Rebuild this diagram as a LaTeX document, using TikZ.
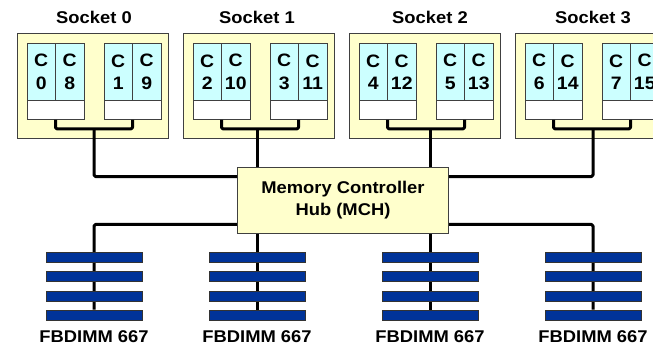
\documentclass[tikz,border=0pt]{standalone}
\usepackage{fontspec}
\setmainfont{Liberation Sans}[FakeStretch=1.08]
\usetikzlibrary{calc,backgrounds}

\definecolor{sockfill}{HTML}{FFFFCC}
\definecolor{corefill}{HTML}{CCFFFF}
\definecolor{barblue}{HTML}{003399}

\tikzset{
  lbl/.style={font=\bfseries\fontsize{17}{22.5}\selectfont, inner sep=0pt},
  sock/.style={draw=black!75, fill=sockfill, line width=0.9pt,
    minimum width=151pt, minimum height=105pt, inner sep=0pt},
  core/.style={draw=black!75, fill=corefill, line width=0.8pt,
    minimum width=28.5pt, minimum height=57pt, inner sep=0pt, align=center,
    font=\bfseries\fontsize{18}{22.5}\selectfont},
  cache/.style={draw=black!75, fill=white, line width=0.8pt,
    minimum width=57pt, minimum height=19pt, inner sep=0pt},
  hub/.style={draw=black!75, fill=sockfill, line width=0.9pt,
    minimum width=211pt, minimum height=66pt, inner sep=0pt, align=center,
    font=\bfseries\fontsize{17}{22}\selectfont},
  dimmbar/.style={draw=black!80, fill=barblue, line width=0.7pt,
    minimum width=96pt, minimum height=10pt, inner sep=0pt},
  bus/.style={line width=3pt, line join=round, rounded corners=1.5pt},
}

\begin{document}
\begin{tikzpicture}[x=1pt, y=-1pt]
  \clip (0,0) rectangle (653,348);

  % MCH
  \node[hub] (mch) at (343,200) {Memory Controller\\Hub (MCH)};

  % four sockets, two dual-core groups each
  \foreach \i/\bx in {0/94,1/257,2/430,3/593} {
    \pgfmathsetmacro{\L}{17+166*\i}
    \pgfmathtruncatemacro{\na}{2*\i}
    \pgfmathtruncatemacro{\nb}{2*\i+8}
    \pgfmathtruncatemacro{\nc}{2*\i+1}
    \pgfmathtruncatemacro{\nd}{2*\i+9}
    \node[sock] (s\i) at (\L+75.5,85.5) {};
    \node[lbl] (t\i) at (\bx,17.5) {Socket \i};
    \node[core] (c\i a) at (\L+24.25,72) {C\\\na};
    \node[core] (c\i b) at (\L+52.75,72) {C\\\nb};
    \node[core] (c\i c) at (\L+101.25,72) {C\\\nc};
    \node[core] (c\i d) at (\L+129.75,72) {C\\\nd};
    \node[cache] (k\i a) at (\L+38.5,110) {};
    \node[cache] (k\i b) at (\L+115.5,110) {};
    % bracket joining the two caches
    \draw[bus] (k\i a.south) -- ++(0,9) -| (k\i b.south);
    \coordinate (m\i) at (\bx,128.5);

    % memory channel
    \node[dimmbar] (d\i-1) at (\bx,257) {};
    \node[dimmbar] (d\i-2) at (\bx,276.5) {};
    \node[dimmbar] (d\i-3) at (\bx,296) {};
    \node[dimmbar] (d\i-4) at (\bx,315) {};
    \node[lbl] (f\i) at (\bx,337) {FBDIMM 667};
  }

  % socket buses into the MCH
  \draw[bus] (m0) |- ($(mch.north west)+(0,10)$);
  \draw[bus] (m1) -- (m1 |- mch.north);
  \draw[bus] (m2) -- (m2 |- mch.north);
  \draw[bus] (m3) |- ($(mch.north east)+(0,10)$);

  % memory channels out of the MCH, behind the DIMM bars
  \begin{pgfonlayer}{background}
    \draw[bus] ($(mch.south west)+(0,-9)$) -| (d0-4.north);
    \draw[bus] (mch.south -| d1-1.north) -- (d1-4.north);
    \draw[bus] (mch.south -| d2-1.north) -- (d2-4.north);
    \draw[bus] ($(mch.south east)+(0,-9)$) -| (d3-4.north);
  \end{pgfonlayer}
\end{tikzpicture}
\end{document}
